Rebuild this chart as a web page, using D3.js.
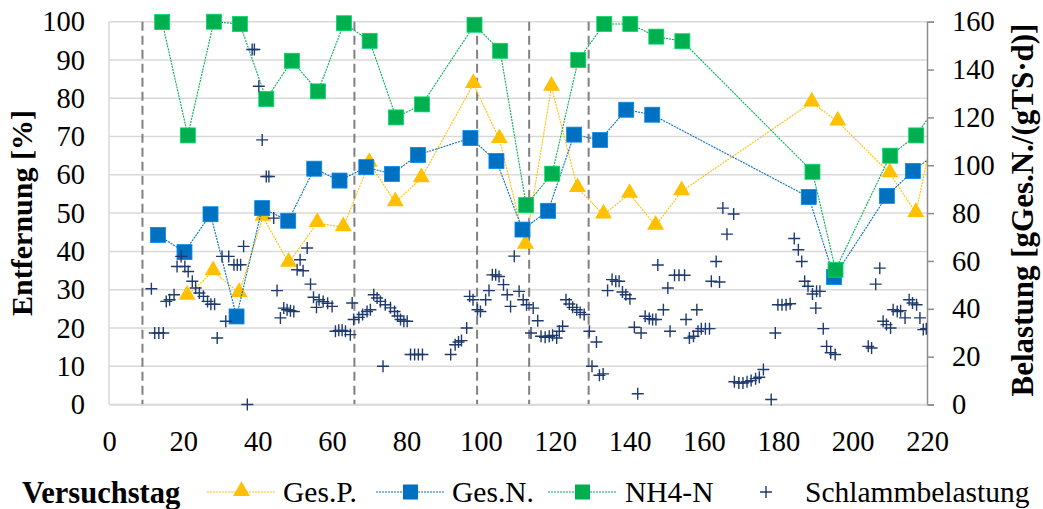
<!DOCTYPE html>
<html><head><meta charset="utf-8">
<script src="https://cdn.jsdelivr.net/npm/d3@7"></script>
<style>body{margin:0;background:#fff}svg{display:block}</style>
</head><body>
<svg id="c" width="1043" height="509"></svg>
<script>
// ---- data ----
const xTicks = [0,20,40,60,80,100,120,140,160,180,200,220];
const yLeftTicks = [0,10,20,30,40,50,60,70,80,90,100];
const yRightTicks = [0,20,40,60,80,100,120,140,160];
const phaseDays = [9,66,99,113,129];

const gesPDays = [21,28,35,41.4,48.3,56,63,70,77,84,98,105,112,119,126,133,140,147,154,189,196,210,217,224];
const gesP     = [28.4,34.8,29.1,49.0,37.0,47.4,46.3,63.1,52.8,59.1,83.7,69.3,41.7,83.0,56.5,49.6,55.0,46.7,55.7,78.9,73.9,60.4,50.0,82];

const gesNDays = [13.2,20.3,27.3,34.3,41.2,48.2,55.2,62,69.2,76.1,83.1,97.2,104.2,111.2,118.1,125.1,132.1,139.1,146.1,188.2,195,209.2,216.2,223];
const gesN     = [44.3,39.8,49.7,23.0,51.3,48.0,61.6,58.5,62.0,60.2,65.2,69.6,63.6,45.7,50.6,70.5,69.1,77.0,75.7,54.2,33.3,54.5,61.0,66];

const nh4Days = [14.3,21.2,28.2,35.2,42.3,49.2,56.2,63.2,70.1,77.2,84.2,98.3,105.2,112.2,119.2,126.2,133.2,140.2,147.2,154.2,189.2,195.4,210.1,217.1,224];
const nh4     = [99.9,70.3,100,99.4,79.8,89.8,81.8,99.6,95.0,75.0,78.4,99.2,92.4,52.1,60.3,90.0,99.4,99.4,96.1,94.9,60.8,35.2,65.0,70.3,80];

const sbDays = [11.4,12.3,13.4,14.6,15.4,16.3,17.5,18.3,19.4,20.4,21.3,22.4,23.3,24.3,25.4,26.5,27.4,28.4,29.1,30.4,31.4,32.2,33.6,34.5,35.4,36.2,37.2,
  38.5,39.1,40.3,41.2,42.3,43.0,44.3,45.2,46.1,47.0,47.9,48.8,49.7,50.6,51.4,52.2,53.3,54.2,55.0,55.8,56.5,57.6,58.8,60.0,
  60.9,61.8,62.7,63.6,64.9,65.4,65.8,67.2,68.2,69.4,70.3,71.2,72.1,73.0,73.7,74.3,75.7,76.8,77.6,78.4,79.3,80.2,
  81.1,82.2,83.2,84.3,91.9,93.1,94.0,94.8,96.2,97.0,97.9,99.1,99.9,101.3,102.2,103.1,104.0,104.9,106.1,107.1,108.0,109.0,110.3,
  111.4,112.3,113.5,114.1,115.3,116.2,117.3,118.4,119.3,120.4,121.1,122.0,122.9,123.8,124.7,125.8,126.7,127.8,129.2,129.9,131.1,131.9,132.9,
  134.1,135.3,136.3,137.2,138.1,139.0,140.1,141.3,142.2,143.1,144.2,145.3,146.2,147.1,147.6,149.1,150.3,150.9,152.1,153.3,154.8,155.2,
  156.1,157.2,158.1,158.4,159.3,160.4,161.5,162.0,163.3,164.2,165.1,166.2,168.0,168.2,169.4,170.5,171.6,172.7,173.9,174.9,176.0,178.1,179.2,
  179.9,181.0,182.1,183.2,184.3,185.4,186.3,187.1,188.0,189.2,190.1,190.3,191.2,192.1,193.0,194.1,195.3,
  204.2,205.1,206.2,207.3,208.2,209.1,210.2,210.9,212.0,212.9,214.1,215.2,216.1,217.2,218.1,219.0,219.8];
const sbVals = [48.4,29.9,29.9,29.9,43.1,43.8,45.9,57.7,61.9,57.7,55.6,51.5,48.7,46.6,45.2,43.1,41.9,41.9,27.8,61.9,34.8,61.9,58.4,58.4,58.4,66.1,0,
  148.4,148.4,133,110.6,95.3,95.3,77.9,47.6,36.2,40.3,39.6,39.2,38.9,56.3,60.5,55.9,65.4,50.3,44.8,40.6,43.8,43.0,42.3,41.0,
  30.6,31.0,31.0,30.6,29.2,42.4,35.5,36.4,37.6,38.9,39.6,45.9,44.5,43.1,16,41.7,40.4,38.9,37.0,35.5,34.8,34.8,
  20.9,20.9,20.9,20.9,20.9,25.0,26.1,26.7,32.0,45.2,43.8,39.6,38.9,43.8,47.6,54.2,54.2,53.5,50.1,45.9,41.0,62.0,47.3,
  43.8,41.7,29.9,40.3,35.0,28.5,28.1,28.5,28.9,27.8,30.6,32.7,43.8,42.0,40.6,39.6,38.5,37.6,30.6,16,26.1,12.2,12.8,
  47.6,52.2,51.5,51.5,47.0,45.9,44.2,32.3,4.5,29.9,36.9,35.9,35.5,35.5,58.3,39.6,48.7,30.6,54.0,54.0,54.0,35.5,
  27.8,28.5,39.6,30.6,31.7,31.7,31.7,51.5,59.8,51.2,82.1,71.2,79.6,9.5,9.0,9.0,9.5,10.0,10.8,11.4,14.6,2.1,29.9,
  41.7,41.7,41.7,42.1,69.4,64.7,59.8,51.5,49.4,46.2,40.3,47.3,47.3,31.7,24.3,21.6,20.9,
  24.3,23.6,50.3,57.0,34.8,33.4,32.0,39.6,38.9,39.2,36.2,43.8,42.4,41.7,36.2,31.3,31.7];

// ---- layout ----
const svg = d3.select('#c');
const L = 109, R = 927, T = 21.7, B = 404.5;
const x = d3.scaleLinear().domain([0,220]).range([L,R]);
const yL = d3.scaleLinear().domain([0,100]).range([B,T]);
const yR = d3.scaleLinear().domain([0,160]).range([B,T]);
const serif = "'Liberation Serif','Times New Roman',serif";
const cYel = '#FFC000', cBlue = '#0070C0', cGreen = '#00B050', cNavy = '#1F3A6E';

svg.append('defs').append('clipPath').attr('id','pc')
  .append('rect').attr('x',L).attr('y',0).attr('width',R-L).attr('height',509);

// gridlines
svg.append('g').selectAll('line').data(yLeftTicks).join('line')
  .attr('x1',L).attr('x2',R).attr('y1',d=>yL(d)).attr('y2',d=>yL(d))
  .attr('stroke','#D9D9D9').attr('stroke-width',1.5);
svg.append('line').attr('x1',L).attr('x2',L).attr('y1',T).attr('y2',B).attr('stroke','#D9D9D9').attr('stroke-width',1.5);

// phase lines
svg.append('g').selectAll('line').data(phaseDays).join('line')
  .attr('x1',d=>x(d)).attr('x2',d=>x(d)).attr('y1',T).attr('y2',B)
  .attr('stroke','#808080').attr('stroke-width',2).attr('stroke-dasharray','9,5');

// right axis
const gR = svg.append('g').attr('transform',`translate(${R},0)`)
  .call(d3.axisRight(yR).tickValues(yRightTicks).tickSize(7).tickPadding(18));
gR.select('.domain').attr('stroke','#8C8C8C').attr('stroke-width',1.5);
gR.selectAll('.tick line').attr('stroke','#8C8C8C').attr('stroke-width',1.5);
gR.selectAll('text').attr('font-family',serif).attr('font-size',28.5).attr('fill','#000');

// left axis
const gL = svg.append('g').attr('transform',`translate(${L},0)`)
  .call(d3.axisLeft(yL).tickValues(yLeftTicks).tickSize(0).tickPadding(24));
gL.select('.domain').remove();
gL.selectAll('text').attr('font-family',serif).attr('font-size',28.5).attr('fill','#000');

// bottom axis
const gB = svg.append('g').attr('transform',`translate(0,${B})`)
  .call(d3.axisBottom(x).tickValues(xTicks).tickSize(0).tickPadding(26));
gB.select('.domain').attr('stroke','#D9D9D9').attr('stroke-width',1.5);
gB.selectAll('text').attr('font-family',serif).attr('font-size',28.5).attr('fill','#000');

// axis titles
svg.append('text').attr('transform','translate(32,213) rotate(-90)').attr('text-anchor','middle')
  .attr('font-family',serif).attr('font-weight','bold').attr('font-size',30).text('Entfernung [%]');
svg.append('text').attr('transform','translate(1033,210) rotate(-90)').attr('text-anchor','middle')
  .attr('font-family',serif).attr('font-weight','bold').attr('font-size',31).text('Belastung [gGes.N./(gTS·d)]');

const plot = svg.append('g').attr('clip-path','url(#pc)');
const tri = d3.symbol().type(d3.symbolTriangle).size(125);

function series(days, vals, color, marker){
  const pts = days.map((d,i)=>[d,vals[i]]);
  plot.append('path').datum(pts)
    .attr('d', d3.line().x(d=>x(d[0])).y(d=>yL(d[1])))
    .attr('fill','none').attr('stroke',color).attr('stroke-width',1.1).attr('stroke-dasharray','2,1');
  const g = plot.append('g');
  if(marker==='tri'){
    g.selectAll('path').data(pts).join('path')
      .attr('d',tri).attr('transform',d=>`translate(${x(d[0])},${yL(d[1])-1})`)
      .attr('fill',color);
  } else {
    g.selectAll('rect').data(pts).join('rect')
      .attr('x',d=>x(d[0])-7.5).attr('y',d=>yL(d[1])-7.5).attr('width',15).attr('height',15)
      .attr('fill',color).attr('stroke', d3.color(color).brighter(0.6)).attr('stroke-width',0.8);
  }
}
series(gesPDays, gesP, cYel, 'tri');
series(gesNDays, gesN, cBlue, 'sq');
series(nh4Days, nh4, cGreen, 'sq');

// Schlammbelastung crosses (right axis)
const cr = plot.append('g');
const sb = sbDays.map((d,i)=>[d,sbVals[i]]);
cr.selectAll('path').data(sb).join('path')
  .attr('d','M-6,0H6M0,-6V6')
  .attr('transform',d=>`translate(${x(d[0])},${yR(d[1])})`)
  .attr('stroke',cNavy).attr('stroke-width',1.4).attr('fill','none');

// legend
const ly = 492;
svg.append('text').attr('x',22).attr('y',ly).attr('dy','0.35em').attr('font-family',serif)
  .attr('font-weight','bold').attr('font-size',30.5).text('Versuchstag');
const legItems = [
  {name:'Ges.P.', color:cYel, m:'tri', x0:207, tx:283},
  {name:'Ges.N.', color:cBlue, m:'sq', x0:376, tx:452},
  {name:'NH4-N', color:cGreen, m:'sq', x0:548, tx:625},
];
legItems.forEach(it=>{
  svg.append('line').attr('x1',it.x0).attr('x2',it.x0+69).attr('y1',ly).attr('y2',ly)
    .attr('stroke',it.color).attr('stroke-width',1.1).attr('stroke-dasharray','2,1');
  const cx = it.x0+34.5;
  if(it.m==='tri') svg.append('path').attr('d',tri).attr('transform',`translate(${cx},${ly-1})`).attr('fill',it.color);
  else svg.append('rect').attr('x',cx-7.5).attr('y',ly-7.5).attr('width',15).attr('height',15).attr('fill',it.color);
  svg.append('text').attr('x',it.tx).attr('y',ly).attr('dy','0.35em').attr('font-family',serif)
    .attr('font-size',29.5).text(it.name);
});
svg.append('path').attr('d','M-6,0H6M0,-6V6').attr('transform',`translate(766,${ly})`)
  .attr('stroke',cNavy).attr('stroke-width',1.4);
svg.append('text').attr('x',805).attr('y',ly).attr('dy','0.35em').attr('font-family',serif)
  .attr('font-size',29.5).text('Schlammbelastung');
</script>
</body></html>
